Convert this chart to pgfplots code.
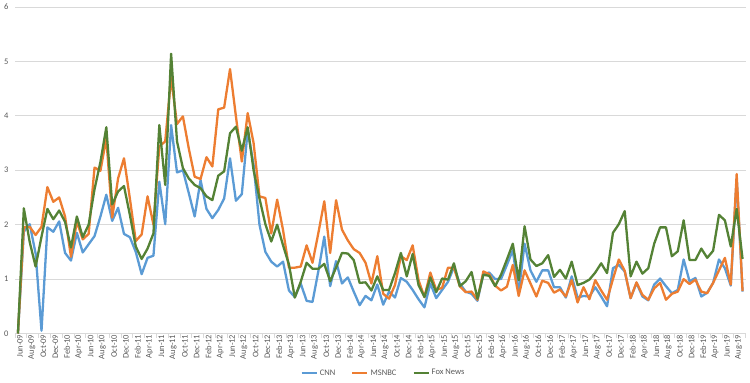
\documentclass[border=0pt]{standalone}
\usepackage{fontspec}
\setmainfont{Carlito}
\usepackage{pgfplots}
\usepackage{pgfplotstable}
\pgfplotsset{compat=1.18}
\definecolor{cnn}{HTML}{5B9BD5}
\definecolor{msnbc}{HTML}{ED7D31}
\definecolor{fox}{HTML}{548235}
\definecolor{gridc}{HTML}{D9D9D9}
\definecolor{txt}{HTML}{595959}
\pgfplotstableread{
i c m f
0 0 0 0
1 1.87 1.95 2.30
2 2.01 1.96 1.68
3 1.47 1.81 1.23
4 0.05 1.96 1.78
5 1.95 2.69 2.29
6 1.87 2.42 2.10
7 2.06 2.50 2.26
8 1.48 2.15 2.05
9 1.34 1.41 1.58
10 1.85 2.06 2.15
11 1.49 1.73 1.77
12 1.64 1.83 2.00
13 1.79 3.05 2.65
14 2.15 2.99 3.15
15 2.55 3.59 3.79
16 2.07 2.13 2.37
17 2.31 2.85 2.61
18 1.83 3.22 2.71
19 1.77 2.48 2.18
20 1.50 1.70 1.60
21 1.09 1.82 1.37
22 1.39 2.52 1.56
23 1.43 2.00 1.84
24 2.79 3.44 3.83
25 2.01 3.53 2.73
26 3.83 4.70 5.14
27 2.96 3.85 3.53
28 3.00 3.99 3.04
29 2.58 3.40 2.85
30 2.15 2.88 2.73
31 2.82 2.84 2.67
32 2.29 3.24 2.52
33 2.12 3.07 2.45
34 2.27 4.12 2.90
35 2.48 4.15 2.98
36 3.22 4.86 3.68
37 2.44 3.99 3.80
38 2.56 3.16 3.36
39 3.74 4.05 3.79
40 3.10 3.50 3.00
41 2.00 2.52 2.48
42 1.50 2.49 2.01
43 1.32 1.84 1.69
44 1.23 2.46 2.00
45 1.32 1.90 1.62
46 0.79 1.21 1.27
47 0.67 1.21 0.66
48 0.92 1.23 0.95
49 0.60 1.62 1.30
50 0.58 1.30 1.19
51 1.15 1.85 1.19
52 1.78 2.43 1.28
53 0.87 1.48 0.96
54 1.33 2.45 1.21
55 0.92 1.91 1.48
56 1.03 1.71 1.47
57 0.77 1.55 1.35
58 0.52 1.48 0.93
59 0.69 1.30 0.94
60 0.61 0.92 0.79
61 0.90 1.42 1.05
62 0.53 0.73 0.80
63 0.77 0.64 0.80
64 0.66 0.89 1.11
65 1.02 1.42 1.48
66 0.95 1.35 1.05
67 0.80 1.62 1.46
68 0.63 0.98 0.89
69 0.48 0.67 0.67
70 0.92 1.12 1.03
71 0.65 0.80 0.76
72 0.80 0.84 1.01
73 0.95 1.21 0.99
74 1.22 1.21 1.29
75 0.92 0.87 0.87
76 0.77 0.76 0.96
77 0.73 0.77 1.13
78 0.60 0.62 0.64
79 1.09 1.14 1.08
80 1.12 1.09 1.06
81 1.00 0.88 0.87
82 1.00 0.79 1.08
83 1.26 0.86 1.36
84 1.53 1.26 1.65
85 0.75 0.69 0.98
86 1.65 1.16 1.97
87 1.16 0.92 1.36
88 0.95 0.68 1.24
89 1.16 0.97 1.29
90 1.16 0.93 1.44
91 0.85 0.75 1.04
92 0.85 0.81 1.17
93 0.66 0.68 1.01
94 1.05 0.98 1.32
95 0.66 0.57 0.89
96 0.69 0.85 0.93
97 0.68 0.63 0.99
98 0.85 0.98 1.12
99 0.68 0.79 1.29
100 0.50 0.62 1.11
101 1.20 1.00 1.85
102 1.26 1.36 2.01
103 1.14 1.15 2.25
104 0.65 0.65 1.05
105 0.93 0.94 1.32
106 0.68 0.71 1.10
107 0.61 0.62 1.20
108 0.90 0.83 1.65
109 1.01 0.93 1.95
110 0.87 0.62 1.95
111 0.74 0.73 1.42
112 0.80 0.77 1.51
113 1.36 1.00 2.08
114 0.96 0.91 1.35
115 1.02 0.99 1.35
116 0.68 0.77 1.56
117 0.75 0.74 1.39
118 0.93 0.93 1.52
119 1.36 1.16 2.18
120 1.20 1.39 2.08
121 0.88 0.90 1.60
122 2.85 2.93 2.29
123 0.77 0.78 1.37
}\data
\begin{document}
\begin{tikzpicture}
\path[use as bounding box] (0,0) rectangle (750pt,383pt);
\begin{axis}[
  at={(15pt,49.5pt)}, anchor=south west,
  scale only axis, width=730.5pt, height=326.5pt,
  xmin=-0.5, xmax=123.5, ymin=0, ymax=6,
  ytick={0,1,...,6},
  xtick={0,2,...,122},
  xticklabels={Jun-09,Aug-09,Oct-09,Dec-09,
    Feb-10,Apr-10,Jun-10,Aug-10,Oct-10,Dec-10,
    Feb-11,Apr-11,Jun-11,Aug-11,Oct-11,Dec-11,
    Feb-12,Apr-12,Jun-12,Aug-12,Oct-12,Dec-12,
    Feb-13,Apr-13,Jun-13,Aug-13,Oct-13,Dec-13,
    Feb-14,Apr-14,Jun-14,Aug-14,Oct-14,Dec-14,
    Feb-15,Apr-15,Jun-15,Aug-15,Oct-15,Dec-15,
    Feb-16,Apr-16,Jun-16,Aug-16,Oct-16,Dec-16,
    Feb-17,Apr-17,Jun-17,Aug-17,Oct-17,Dec-17,
    Feb-18,Apr-18,Jun-18,Aug-18,Oct-18,Dec-18,
    Feb-19,Apr-19,Jun-19,Aug-19},
  minor xtick={-0.5,1.5,...,123.5},
  major tick length=0pt,
  minor tick length=4pt,
  tick align=outside,
  axis x line*=bottom,
  axis y line*=left,
  x axis line style={draw=gridc, line width=0.75pt, -},
  y axis line style={draw=none},
  minor x tick style={draw=gridc, line width=0.75pt},
  ytick style={draw=none},
  ymajorgrids,
  grid style={draw=gridc, line width=0.75pt},
  /pgf/number format/assume math mode=true,
  xticklabel style={rotate=90, anchor=east, font=\fontsize{8.5}{9}\selectfont, text=txt, inner sep=1pt, yshift=-2pt},
  yticklabel style={font=\fontsize{8.5}{9}\selectfont, text=txt, xshift=-3pt},
  legend style={at={(0.5044,-0.121)}, anchor=center, draw=none, fill=none,
    legend columns=3, font=\fontsize{8.5}{10}\selectfont, text=txt,
    /tikz/every even column/.append style={column sep=14pt},
    inner sep=0pt},
  legend cell align=left,
  legend image code/.code={\draw[#1] (0pt,0pt) -- (15pt,0pt);},
  every axis plot/.append style={line width=2.3pt, line join=round, no markers},
  clip=false,
]
\addplot[cnn] table[x=i, y=c] {\data};
\addplot[msnbc] table[x=i, y=m] {\data};
\addplot[fox] table[x=i, y=f] {\data};
\legend{CNN, MSNBC, Fox News}
\end{axis}
\end{tikzpicture}
\end{document}
